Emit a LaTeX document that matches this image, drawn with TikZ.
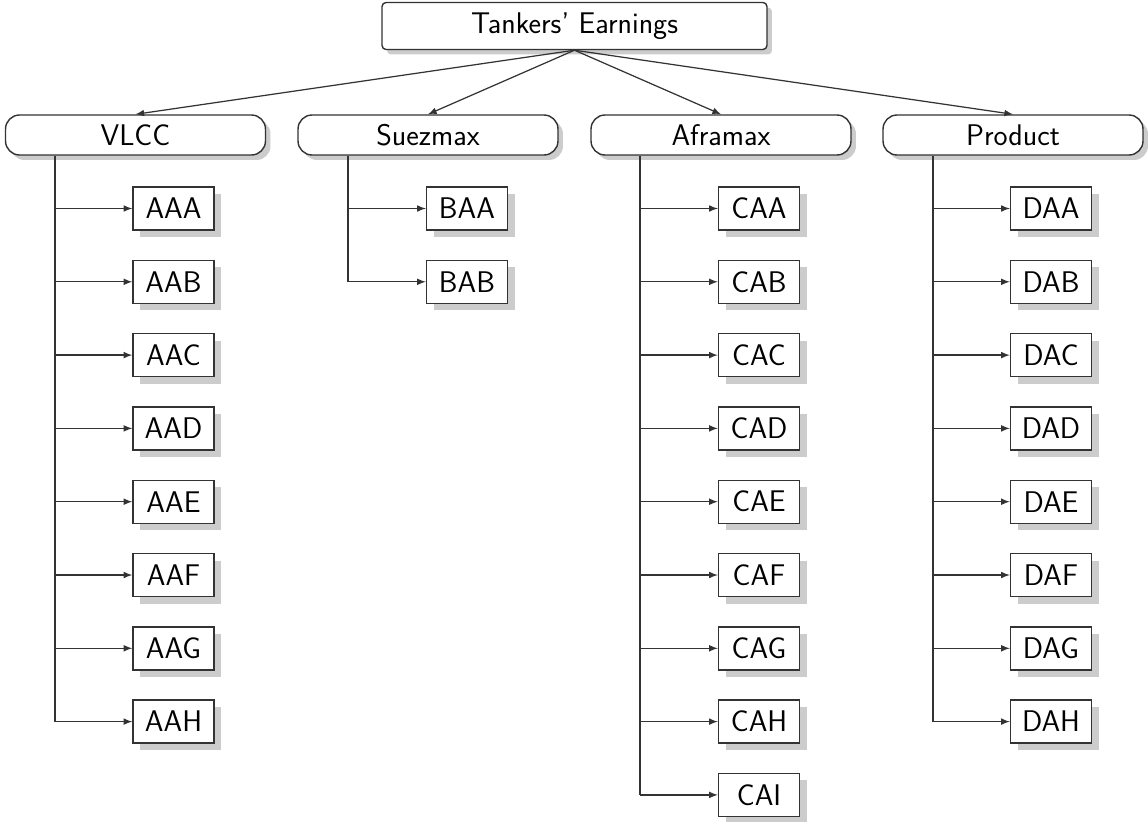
\documentclass[tikz,border=0pt]{standalone}
\usepackage{fontspec}
\usepackage{tikz}
\usetikzlibrary{shapes,arrows,positioning,calc,shadows}

\begin{document}
\begin{tikzpicture}[x=0.02cm, y=-0.02cm,
  every node/.style={draw=black!80, fill=white, line width=0.8pt, font=\sffamily\fontsize{17}{20}\selectfont},
  toplevel/.style={rounded corners=0.08cm, minimum width=7.7cm, minimum height=0.94cm,
    drop shadow={shadow xshift=0.1cm, shadow yshift=-0.1cm, fill=black!20, opacity=1}},
  ship/.style={rounded corners=0.28cm, minimum width=5.2cm, minimum height=0.8cm,
    drop shadow={shadow xshift=0.1cm, shadow yshift=-0.1cm, fill=black!20, opacity=1}},
  route/.style={rectangle, minimum width=1.62cm, minimum height=0.86cm,
    drop shadow={shadow xshift=0.14cm, shadow yshift=-0.14cm, fill=black!20, opacity=1}},
  bus/.style={draw=black!80, line width=0.7pt},
  link/.style={->, >=latex, draw=black!80, line width=0.7pt}]

\useasboundingbox (0,0) rectangle (1148,821);

% Top: total earnings
\node[toplevel] (root) at (574.5,26) {Tankers' Earnings};

% Second row: vessel classes
\node[ship] (vlcc) at (135.5,135) {VLCC};
\node[ship] (suezmax) at (428,135) {Suezmax};
\node[ship] (aframax) at (721,135) {Aframax};
\node[ship] (product) at (1013,135) {Product};

\draw[link] (root.south) -- (vlcc.north);
\draw[link] (root.south) -- (suezmax.north);
\draw[link] (root.south) -- (aframax.north);
\draw[link] (root.south) -- (product.north);

% VLCC routes
\coordinate (vlccbus) at ([xshift=-1.61cm]vlcc.south);
\foreach \leaf [count=\i from 0] in {AAA,AAB,AAC,AAD,AAE,AAF,AAG,AAH}{
  \node[route] (\leaf) at (173.5,208.5+73.3*\i) {\leaf};
  \draw[link] (vlccbus |- \leaf.west) -- (\leaf.west);
}
\draw[bus] (vlccbus) -- (vlccbus |- AAH.west);

% Suezmax routes
\coordinate (suezbus) at ([xshift=-1.6cm]suezmax.south);
\foreach \leaf [count=\i from 0] in {BAA,BAB}{
  \node[route] (\leaf) at (467,208.5+73.3*\i) {\leaf};
  \draw[link] (suezbus |- \leaf.west) -- (\leaf.west);
}
\draw[bus] (suezbus) -- (suezbus |- BAB.west);

% Aframax routes
\coordinate (aframaxbus) at ([xshift=-1.62cm]aframax.south);
\foreach \leaf [count=\i from 0] in {CAA,CAB,CAC,CAD,CAE,CAF,CAG,CAH,CAI}{
  \node[route] (\leaf) at (759,208.5+73.3*\i) {\leaf};
  \draw[link] (aframaxbus |- \leaf.west) -- (\leaf.west);
}
\draw[bus] (aframaxbus) -- (aframaxbus |- CAI.west);

% Product routes
\coordinate (productbus) at ([xshift=-1.6cm]product.south);
\foreach \leaf [count=\i from 0] in {DAA,DAB,DAC,DAD,DAE,DAF,DAG,DAH}{
  \node[route] (\leaf) at (1051,208.5+73.3*\i) {\leaf};
  \draw[link] (productbus |- \leaf.west) -- (\leaf.west);
}
\draw[bus] (productbus) -- (productbus |- DAH.west);

\end{tikzpicture}
\end{document}
